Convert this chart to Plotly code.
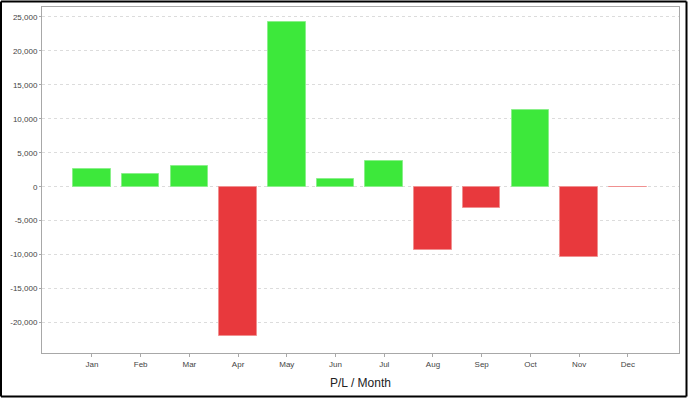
import plotly.graph_objects as go

months = ["Jan", "Feb", "Mar", "Apr", "May", "Jun", "Jul", "Aug", "Sep", "Oct", "Nov", "Dec"]
pl_values = [2650, 1910, 3000, -22050, 24260, 1180, 3830, -9280, -3100, 11300, -10300, -80]
y_tick_vals = [-20000, -15000, -10000, -5000, 0, 5000, 10000, 15000, 20000, 25000]
y_tick_text = ["-20,000", "-15,000", "-10,000", "-5,000", "0", "5,000", "10,000", "15,000", "20,000", "25,000"]

GREEN = "#3de83b"
RED = "#e8393d"
colors = [GREEN if v >= 0 else RED for v in pl_values]
edge = ["#8af08a" if v >= 0 else "#f09090" for v in pl_values]

W, H = 688, 398
L, R, T, B = 42, 9, 7, 45
pw, ph = W - L - R, H - T - B

fig = go.Figure(go.Bar(
    x=list(range(len(months))),
    y=pl_values,
    width=0.77,
    marker=dict(color=colors, line=dict(color=edge, width=1)),
    hoverinfo="skip",
))

fig.update_layout(
    width=W, height=H,
    margin=dict(l=L, r=R, t=T, b=B, autoexpand=False),
    paper_bgcolor="white",
    plot_bgcolor="white",
    showlegend=False,
    font=dict(family="Liberation Sans, Arial, sans-serif", color="#444444", size=8),
    bargap=0,
)
fig.update_xaxes(
    automargin=False,
    range=[-1.025, 12.05],
    tickvals=list(range(len(months))),
    ticktext=months,
    showgrid=False,
    zeroline=False,
    showline=True, linecolor="#a8a8a8", linewidth=1, mirror=True,
    ticks="outside", ticklen=3, tickcolor="#a8a8a8",
    tickfont=dict(size=8, color="#444444"),
    title=dict(text="P/L / Month", font=dict(size=12, color="#222222"), standoff=11),
)
fig.update_yaxes(
    automargin=False,
    range=[-24490, 26470],
    tickvals=y_tick_vals,
    ticktext=y_tick_text,
    showgrid=True, gridcolor="#dcdcdc", griddash="3px,3px", gridwidth=1,
    zeroline=False,
    showline=True, linecolor="#a8a8a8", linewidth=1, mirror=True,
    ticks="outside", ticklen=2, tickcolor="#a8a8a8",
    tickfont=dict(size=8, color="#444444"),
)

# outer black frame around the whole image (drawn as four lines)
def px_x(p):
    return (p - L) / pw

def px_y(p):
    return 1 - (p - T) / ph

xl, xr, yt, yb = 1.0, 686.5, 1.5, 396.5
for (ax0, ay0, ax1, ay1) in [(xl, yt, xr, yt), (xl, yb, xr, yb), (xl, yt, xl, yb), (xr, yt, xr, yb)]:
    fig.add_shape(
        type="line", xref="paper", yref="paper",
        x0=px_x(ax0), y0=px_y(ay0), x1=px_x(ax1), y1=px_y(ay1),
        line=dict(color="black", width=2),
        layer="above",
    )

fig.write_html(
    "out.html",
    config={"displayModeBar": False},
    post_script="document.body.style.margin='0';",
)
